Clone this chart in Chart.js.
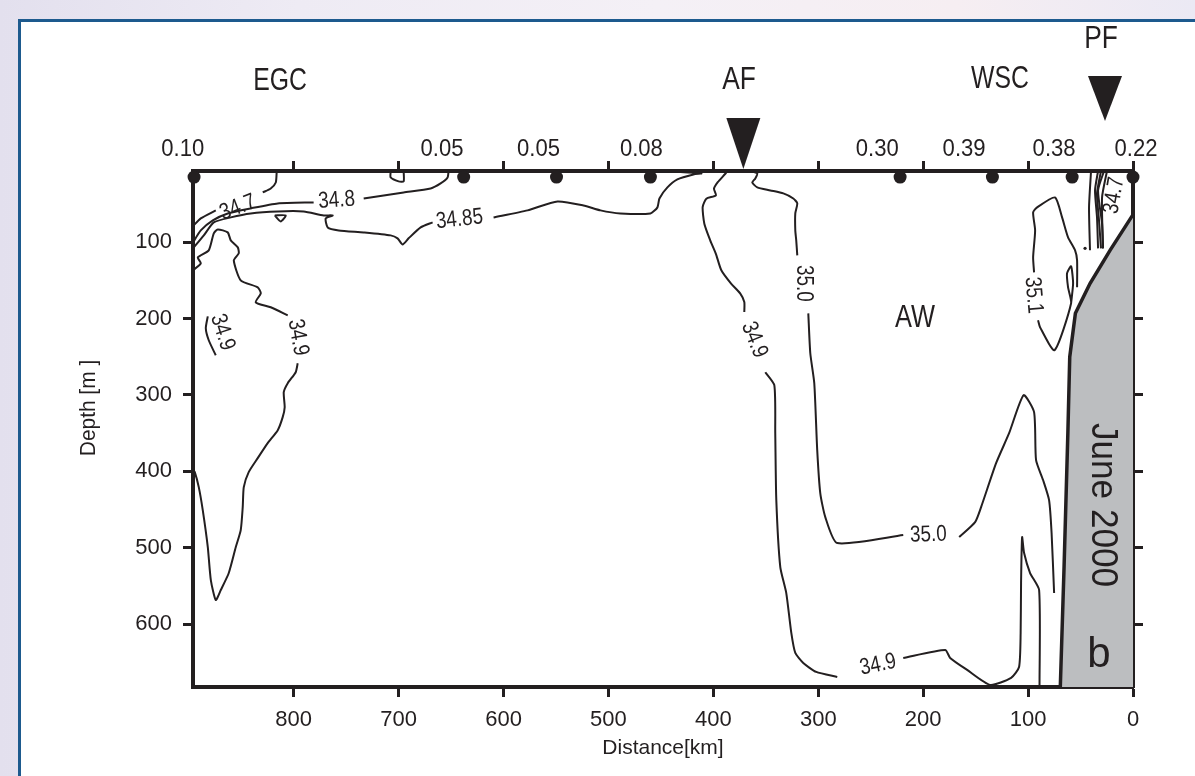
<!DOCTYPE html>
<html><head><meta charset="utf-8">
<script src="https://cdn.jsdelivr.net/npm/chart.js@4.4.1/dist/chart.umd.min.js"></script>
<style>
html,body{margin:0;padding:0;}
body{width:1195px;height:776px;overflow:hidden;position:relative;
background:linear-gradient(90deg,#e3e0ee 0%,#eeebf4 25%,#f4f0f6 55%,#f6eef2 80%,#ebe9f4 100%);}
#panel{position:absolute;left:18px;top:19px;width:1200px;height:800px;background:#fff;border-left:3px solid #1d5a8e;border-top:3px solid #1d5a8e;}
#wrap{position:absolute;left:0;top:0;width:1195px;height:776px;}
</style></head>
<body><div id="panel"></div><div id="wrap"><canvas id="c" width="1195" height="776"></canvas></div>
<script>
// ---------- data (distance km, depth m) ----------
const distTicks = [0,100,200,300,400,500,600,700,800];
const depthTicks = [100,200,300,400,500,600];
const distRange = [0, 896];
const depthRange = [7, 682];

const stationKm = [895, 638, 549.5, 460, 222, 134, 58, 0];
const stationDepth = [15, 15, 15, 15, 15, 15, 15, 15];
const stationValues = ['0.10','0.05','0.05','0.08','0.30','0.39','0.38','0.22'];
const stationLabelKm = [905.7, 658.6, 566.7, 468.6, 243.8, 161, 75.2, -2.9];

const frontKm = {AF: 371.4, PF: 26.7};

const c347a = [[896,79],[888.6,69.0],[874.3,58.5]];
const c347b = [[829.5,35.0],[821.9,29.8],[817.1,22.0],[816.2,7]];
const c348a = [[896,100.4],[888.6,84.7],[877.1,71.6],[862.9,62.5],[841.0,55.9],[815.2,49.4],[781.0,48.1]];
const c348b = [[733.3,42.9],[695.2,35.0],[669.5,29.8],[660.0,23.3],[653.3,15.4],[652.4,7]];
const c3485a = [[896,108.2],[885.7,91.2],[876.2,74.2],[860.0,67.7],[841.0,62.5],[815.2,59.9],[790.5,59.9],[771.4,65.1],[762.9,65.1],[769.5,69.0],[767.6,80.8],[757.1,84.7],[733.3,87.3],[707.6,91.2],[701.0,95.1],[696.2,103.0],[690.5,95.1],[679.0,80.8],[667.6,74.2]];
const c3485b = [[609.5,67.7],[577.1,58.5],[548.6,46.8],[523.8,52.0],[507.6,58.5],[488.6,62.5],[460,62.5],[453.3,54.6],[451.4,42.9],[443.8,28.5],[434.3,18.0],[419.0,11.5],[411.4,10.2],[431.4,8.2],[450.5,7.6]];
const c349La = [[896,136.9],[888.6,127.8],[891.4,120.0],[881.0,110.8],[876.2,88.6],[872.4,83.4],[862.9,87.3],[860.0,97.7],[853.3,106.9],[852.4,114.7],[857.1,123.9],[850.5,150.0],[834.3,159.2],[831.4,167.0],[836.2,178.8],[821.9,185.3],[805.7,195.8]];
const c349Lb = [[796.2,258.5],[798.1,270.2],[805.7,284.6],[809.5,296.4],[808.6,316.0],[810.5,329.0],[815.2,346.0],[824.8,363.0],[834.3,382.6],[842.9,400.9],[847.6,420.5],[848.6,446.7],[850.5,476.7],[855.2,498.9],[861.9,532.9],[869.5,555.1],[874.3,568.2],[879.0,542.1],[881.9,498.9],[886.7,450.6],[890.5,420.5],[894.3,400.9],[896,398.2]];
const c349S = [[881.9,197.1],[883.8,212.7],[881.0,228.4],[874.3,248.0]];
const loopA = [[707.6,7.6],[707.6,15.4],[700.0,20.6],[695.2,20.6],[695.2,7.6]];
const loopB = [[818.1,65.1],[807.6,65.1],[812.4,72.9],[818.1,65.1]];
const c349Ma = [[386.7,7],[388.6,10.6],[395.8,21.6],[399.4,30.2],[397.6,38.9],[406.7,43.3],[410.2,54.2],[408.6,75.9],[403.0,97.7],[397.6,115.3],[392.4,136.9],[383.1,154.3],[374.3,167.4],[370.5,178.4],[370.5,191.4]];
const c349Mb = [[350.5,270.2],[341.9,287.2],[341.0,350.0],[340.0,437.5],[336.2,525.1],[330.5,559.1],[325.7,611.3],[321.9,637.5],[314.3,650.6],[301.9,662.3],[281.9,668.9]];
const c349Mc = [[219.0,644.0],[179.0,633.6],[174.3,644.0],[158.1,659.7],[136.2,679.3],[116.2,670.1],[108.6,655.8],[107.1,611.3],[106.7,546.0],[105.7,485.9],[103.8,506.8],[98.1,532.9],[89.5,555.1],[89.1,682]];
const c350a = [[364.8,7],[358.1,10.2],[360.0,16.7],[362.9,22.0],[358.1,28.5],[345.7,32.4],[333.3,36.3],[323.8,42.9],[320.0,49.4],[321.9,62.5],[321.9,84.7],[321.0,97.7],[320.0,117.4]];
const c350b = [[309.5,193.2],[307.6,245.4],[303.8,284.6],[301.0,372.2],[298.1,428.3],[293.3,459.7],[281.9,493.7],[219.0,483.3]];
const c350c = [[165.7,485.9],[150.5,466.3],[144.8,446.7],[130.5,389.2],[118.1,350.0],[104.3,300.3],[94.3,322.5],[92.4,385.2],[85.7,411.3],[80.0,437.5],[77.6,480.6],[75.2,559.1]];
const c351a = [[94.3,139.6],[95.2,120.0],[93.3,84.7],[95.2,61.2],[91.4,54.6],[74.3,41.6],[67.6,67.7],[61.9,93.8],[55.2,110.8],[53.3,123.9],[53.3,159.2]];
const c351b = [[90.5,202.3],[88.6,211.4],[74.8,241.5],[59.0,180.1],[61.9,159.2],[62.9,140.9],[59.0,131.7],[57.1,153.9],[59.0,180.1]];
const pf1 = [[40.0,7],[41.9,54.6],[41.0,110.8]];
const pf2 = [[33.3,7],[36.2,32.4],[34.3,67.7],[33.3,108.2]];
const pf3 = [[30.5,7],[34.3,36.3],[32.4,71.6],[30.5,108.2]];
const pf4 = [[27.6,7],[33.3,32.4],[29.5,75.5],[28.6,108.2]];
const pf5 = [[24.8,7],[29.5,41.6],[28.6,108.2]];
const pfDot = [[45.7,108.2]];
const bathy = [[0,64],[21.9,110.8],[41,154.3],[54.9,193.2],[60.3,250.3],[62.1,350.4],[65.7,524.7],[69.3,682]];

const contourLabels = [
  {t:'34.7', km:853.3, d:54.9, a:-21},
  {t:'34.8', km:759, d:45.5, a:-4},
  {t:'34.85', km:642, d:70.3, a:-6},
  {t:'34.9', km:796, d:224.7, a:80},
  {t:'34.9', km:868, d:218, a:72},
  {t:'34.9', km:361, d:228, a:68},
  {t:'35.0', km:314, d:154, a:90},
  {t:'35.0', km:195, d:483, a:-2},
  {t:'34.9', km:243, d:653, a:-12},
  {t:'35.1', km:95, d:169.6, a:85},
  {t:'34.7', km:18, d:39, a:-80}
];

// ---------- styling ----------
const INK = '#231f20';
const REG = "'Liberation Sans',Arial,sans-serif";

const contours = [c347a,c347b,c348a,c348b,c3485a,c3485b,c349La,c349Lb,c349S,loopA,loopB,
  c349Ma,c349Mb,c349Mc,c350a,c350b,c350c,c351a,c351b,pf1,pf2,pf3,pf4,pf5];
const toXY = arr => arr.map(p => ({x:p[0], y:p[1]}));

const datasets = contours.map(c => ({
  data: toXY(c), showLine:true, borderColor:INK, borderWidth:2, pointRadius:0,
  tension:0.2, fill:false
}));
datasets.push({data: toXY(pfDot), showLine:false, pointRadius:1.6, pointBackgroundColor:INK, pointBorderWidth:0});
datasets.push({data: toXY(bathy), showLine:true, borderColor:INK, borderWidth:3.5, pointRadius:0,
  backgroundColor:'#bcbec0', fill:{value: depthRange[1]}, tension:0});
datasets.push({data: stationKm.map((k,i)=>({x:k, y:stationDepth[i]})), showLine:false,
  pointRadius:6.5, pointBackgroundColor:INK, pointBorderWidth:0, clip:false});

// condensed text helper: horizontal squeeze of Liberation Sans
function txt(ctx, s, x, y, size, rot, sx){
  ctx.save();
  ctx.translate(x, y);
  if (rot) ctx.rotate(rot * Math.PI / 180);
  ctx.scale(sx, 1);
  ctx.font = `${size}px ${REG}`;
  ctx.fillText(s, 0, 0);
  ctx.restore();
}

const annot = {
  id:'annot',
  afterDraw(chart){
    const {ctx, scales:{x, y}, chartArea:ca} = chart;
    ctx.save();
    ctx.fillStyle = INK;
    ctx.textAlign = 'center'; ctx.textBaseline = 'middle';
    // station values along top
    stationValues.forEach((v,i) => txt(ctx, v, x.getPixelForValue(stationLabelKm[i]), ca.top - 22, 24, 0, 0.92));
    // region names
    txt(ctx, 'EGC', 280, 81, 31, 0, 0.8);
    txt(ctx, 'AF', 739, 80, 31, 0, 0.85);
    txt(ctx, 'WSC', 1000, 79, 31, 0, 0.8);
    txt(ctx, 'PF', 1101, 39, 31, 0, 0.85);
    txt(ctx, 'AW', 915, 318, 31, 0, 0.82);
    // axis title (depth)
    txt(ctx, 'Depth [m ]', 89, 408, 22, -90, 0.95);
    // front triangles
    const tri = (cx, topY, w, tipY) => {
      ctx.beginPath(); ctx.moveTo(cx - w/2, topY); ctx.lineTo(cx + w/2, topY); ctx.lineTo(cx, tipY); ctx.closePath(); ctx.fill();
    };
    tri(x.getPixelForValue(frontKm.AF), 118, 34, ca.top - 2);
    tri(x.getPixelForValue(frontKm.PF), 76, 34, 121);
    // contour labels
    contourLabels.forEach(l => txt(ctx, l.t, x.getPixelForValue(l.km), y.getPixelForValue(l.d), 23, l.a, 0.82));
    // panel text
    txt(ctx, 'June 2000', 1102, 505, 37, 90, 0.95);
    txt(ctx, 'b', 1099, 655, 42, 0, 1);
    ctx.restore();
  }
};

const tickGrid = {drawOnChartArea:false, drawTicks:true, tickLength:10, tickWidth:3, tickColor:INK};
const brd = {display:true, width:4, color:INK};

new Chart(document.getElementById('c'), {
  type:'scatter',
  data:{datasets},
  options:{
    responsive:false, animation:false, devicePixelRatio:1,
    layout:{padding:{left:77, right:0, top:0, bottom:0}},
    plugins:{legend:{display:false}, tooltip:{enabled:false}},
    scales:{
      x:{type:'linear', position:'bottom', reverse:true, min:distRange[0], max:distRange[1],
        afterBuildTicks:s => { s.ticks = distTicks.map(v=>({value:v})); },
        afterFit:s => { s.height = 89; },
        ticks:{font:{family:REG, size:22}, color:INK, padding:10, maxRotation:0, autoSkip:false},
        grid:tickGrid, border:brd,
        title:{display:true, text:'Distance[km]', color:INK, font:{family:REG, size:21}, padding:{top:0,bottom:15}}
      },
      x2:{type:'linear', position:'top', reverse:true, min:distRange[0], max:distRange[1],
        afterBuildTicks:s => { s.ticks = distTicks.map(v=>({value:v})); },
        afterFit:s => { s.height = 171; },
        ticks:{display:false}, grid:tickGrid, border:brd
      },
      y:{type:'linear', position:'left', reverse:true, min:depthRange[0], max:depthRange[1],
        afterBuildTicks:s => { s.ticks = depthTicks.map(v=>({value:v})); },
        afterFit:s => { s.width = 116; },
        ticks:{font:{family:REG, size:22}, color:INK, padding:11},
        grid:tickGrid, border:brd
      },
      y2:{type:'linear', position:'right', reverse:true, min:depthRange[0], max:depthRange[1],
        afterBuildTicks:s => { s.ticks = depthTicks.map(v=>({value:v})); },
        afterFit:s => { s.width = 62; },
        ticks:{display:false}, grid:tickGrid, border:brd
      }
    }
  },
  plugins:[annot]
});
</script>
</body></html>
